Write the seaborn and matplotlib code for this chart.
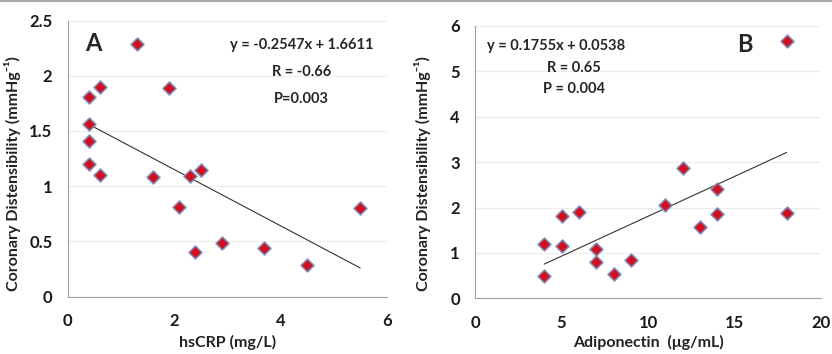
import numpy as np
import pandas as pd
import seaborn as sns
import matplotlib
matplotlib.use('Agg')
import matplotlib.pyplot as plt
from matplotlib.lines import Line2D

# Panel A: hsCRP vs coronary distensibility
hscrp = [0.4, 0.4, 0.4, 0.4, 0.6, 0.6, 1.3, 1.9, 1.6, 2.3, 2.5, 2.1, 2.4, 2.9, 3.7, 4.5, 5.5]
cd_a = [1.81, 1.56, 1.41, 1.20, 1.90, 1.10, 2.29, 1.89, 1.08, 1.09, 1.15, 0.81, 0.40, 0.49, 0.44, 0.29, 0.80]
fit_a = (-0.2547, 1.6611)
text_a = ['y = -0.2547x + 1.6611', 'R = -0.66', 'P=0.003']

# Panel B: adiponectin vs coronary distensibility
adipo = [4, 4, 5, 5, 6, 7, 7, 8, 9, 11, 12, 13, 14, 14, 18, 18]
cd_b = [1.20, 0.50, 1.81, 1.16, 1.90, 1.09, 0.81, 0.53, 0.85, 2.06, 2.88, 1.57, 2.41, 1.86, 1.89, 5.66]
fit_b = (0.1755, 0.0538)
text_b = ['y = 0.1755x + 0.0538', 'R = 0.65', 'P = 0.004']

sns.set_style('white')
plt.rcParams['font.family'] = ['Lato', 'DejaVu Sans']
plt.rcParams['font.weight'] = 'bold'

fig = plt.figure(figsize=(8.32, 3.54), dpi=100)
ax1 = fig.add_axes([0.0814, 0.162, 0.3834, 0.780])
ax2 = fig.add_axes([0.571, 0.157, 0.416, 0.770])

# thin grey frame line along the top of the image
fig.add_artist(Line2D([0, 1], [0.997, 0.997], color='#aaaaaa', lw=1.5, transform=fig.transFigure))

def panel(ax, x, y, fit, xlim, xticks, ylim, yticks, xlabel, xlab_y, ylab_xy):
    df = pd.DataFrame({'x': x, 'y': y})
    sns.scatterplot(data=df, x='x', y='y', ax=ax, marker='D', s=44,
                    color='#d01020', edgecolor='#7f8fb8', linewidth=1.1, zorder=3)
    xs = np.array([min(x), max(x)])
    ax.plot(xs, fit[0] * xs + fit[1], color='#333333', lw=0.8, zorder=2)
    ax.set_xlim(*xlim)
    ax.set_ylim(*ylim)
    ax.set_xticks(xticks)
    ax.set_yticks(yticks)
    ax.set_xticklabels([f'{t:g}' for t in xticks])
    ax.set_yticklabels([f'{t:g}' for t in yticks])
    ax.grid(axis='y', color='#ececec', lw=0.8)
    ax.set_axisbelow(True)
    for s in ['top', 'right']:
        ax.spines[s].set_visible(False)
    for s in ['left', 'bottom']:
        ax.spines[s].set_color('#a0a0a0')
        ax.spines[s].set_linewidth(0.8)
    ax.tick_params(axis='both', length=4, width=0.8, color='#a0a0a0',
                   labelsize=12, pad=7, direction='out', labelcolor='#1a1a1a')
    ax.tick_params(axis='x', pad=8)
    ax.set_xlabel(xlabel, fontsize=11.5, fontweight='bold', color='#222222')
    ax.xaxis.set_label_coords(0.5, xlab_y)
    ax.set_ylabel('Coronary Distensibility (mmHg\u207b\u00b9)', fontsize=11.5,
                  fontweight='bold', color='#222222')
    ax.yaxis.set_label_coords(*ylab_xy)
    for lab in ax.get_xticklabels() + ax.get_yticklabels():
        lab.set_fontweight('bold')

panel(ax1, hscrp, cd_a, fit_a, (0, 6), [0, 2, 4, 6], (0, 2.5), [0, 0.5, 1, 1.5, 2, 2.5],
      'hsCRP (mg/L)', -0.14, (-0.148, 0.445))
panel(ax2, adipo, cd_b, fit_b, (0, 20), [0, 5, 10, 15, 20], (0, 6), [0, 1, 2, 3, 4, 5, 6],
      'Adiponectin  (μg/mL)', -0.135, (-0.128, 0.458))

ax1.text(0.48, 2.29, 'A', fontsize=17, fontweight='bold', va='center', ha='center')
ax2.text(15.6, 5.6, 'B', fontsize=17, fontweight='bold', va='center', ha='center')

ax1.text(4.4, 2.28, text_a[0], fontsize=10.5, fontweight='bold', ha='center', va='center')
ax1.text(4.4, 2.03, text_a[1], fontsize=10.5, fontweight='bold', ha='center', va='center')
ax1.text(4.4, 1.79, text_a[2], fontsize=10.5, fontweight='bold', ha='center', va='center')

ax2.text(0.7, 5.55, text_b[0], fontsize=10.5, fontweight='bold', ha='left', va='center')
ax2.text(5.7, 5.07, text_b[1], fontsize=10.5, fontweight='bold', ha='center', va='center')
ax2.text(5.7, 4.6, text_b[2], fontsize=10.5, fontweight='bold', ha='center', va='center')

fig.savefig('out.png', dpi=100)
